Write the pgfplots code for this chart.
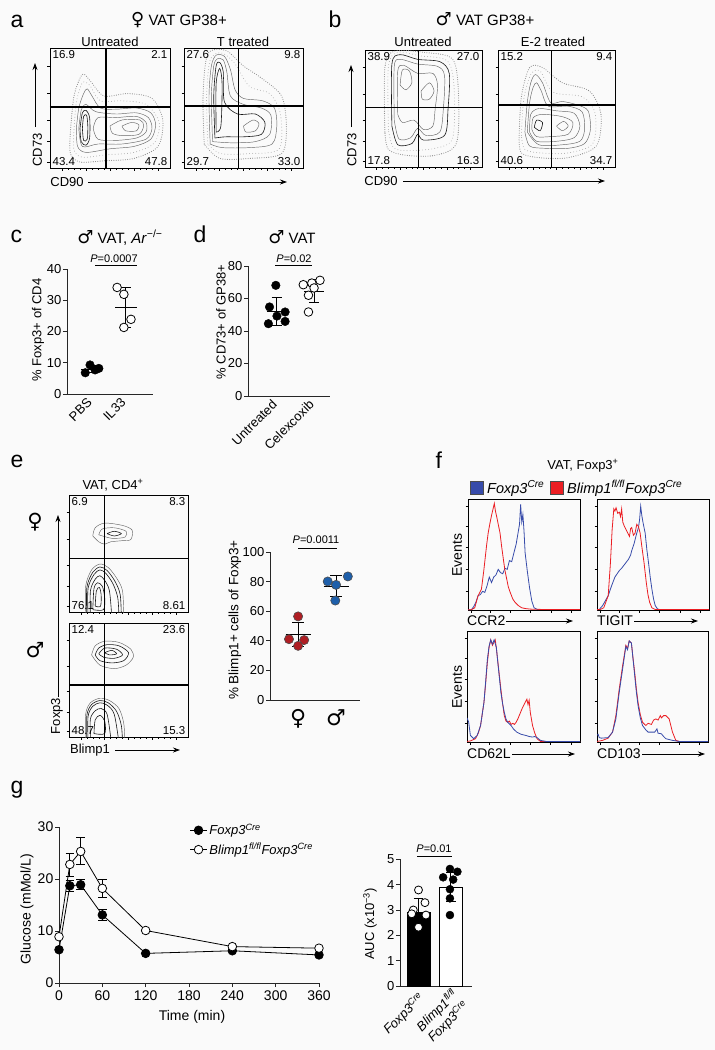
\documentclass[border=0pt]{standalone}
\usepackage{fontspec}
\setmainfont{Liberation Sans}
\newfontfamily\sym{DejaVu Sans}
\usepackage{pgfplots}
\pgfplotsset{compat=1.18}
\usetikzlibrary{arrows.meta}
\definecolor{bgc}{RGB}{250,250,250}
\definecolor{dred}{RGB}{175,30,35}
\definecolor{dblue}{RGB}{30,95,170}
\definecolor{hred}{RGB}{235,30,35}
\definecolor{hblue}{RGB}{55,75,170}
\newcommand{\fntS}{\fontsize{13}{15.5}\selectfont}
\newcommand{\fntG}{\fontsize{14}{16.5}\selectfont}
\newcommand{\fntT}{\fontsize{15}{18}\selectfont}
\newcommand{\fntN}{\fontsize{11.5}{13}\selectfont}
\newcommand{\fntP}{\fontsize{11}{13}\selectfont}
\newcommand{\fntL}{\fontsize{23}{26}\selectfont}
\newcommand{\fntLeg}{\fontsize{14.5}{17}\selectfont}
\newcommand{\fem}{{\sym\fontsize{18}{18}\selectfont ♀}}
\newcommand{\mal}{{\sym\fontsize{18}{18}\selectfont ♂}}
\pgfplotsset{
 base/.style={scale only axis, enlargelimits=false, /pgf/number format/assume math mode=true,
   tick label style={font=\fntS}, yticklabel style={inner xsep=1.5pt},
   axis lines=left, axis line style={-, line width=0.8pt, black!85},
   x axis line style={-}, y axis line style={-},
   tick style={line width=0.8pt, black!85}, xtick align=outside, ytick align=outside, major tick length=4pt,
   clip=false, unbounded coords=jump},
 flow/.style={scale only axis, enlargelimits=false, xmin=0,xmax=1,ymin=0,ymax=1, tick pos=left, tick align=outside,
   xtick={0.1,0.3,0.5,0.7,0.9}, ytick={0.05,0.22,0.4,0.62,0.85}, minor x tick num=3,
   xticklabels={}, yticklabels={}, major tick length=2.5pt, minor tick length=1.5pt,
   axis line style={line width=0.7pt}, tick style={line width=0.5pt, black}},
 hist/.style={scale only axis, enlargelimits=false, xmin=0,xmax=1,ymin=0,ymax=1.01, tick pos=left, tick align=outside,
   xtick={0.03,0.2,0.38,0.56,0.74,0.92}, minor x tick num=3, ytick={0.175,0.37,0.57,0.76,0.945},
   xticklabels={}, yticklabels={}, major tick length=2.5pt, minor tick length=1.5pt,
   axis line style={line width=0.8pt}, tick style={line width=0.5pt, black}},
 cont/.style={no markers, smooth, line width=0.45pt, black!60},
 contd/.style={no markers, smooth, line width=0.6pt, black!90},
 dots/.style={no markers, smooth, line cap=round, dash pattern=on 0pt off 2.3pt, line width=1.1pt, black!45},
 dotsb/.style={no markers, smooth, line cap=round, dash pattern=on 0pt off 3.1pt, line width=0.9pt, black!35},
 hr/.style={no markers, hred, line width=0.8pt},
 hb/.style={no markers, hblue, line width=0.8pt},
 msd/.style={black, line width=0.9pt, no markers},
}
\tikzset{quad/.style={line width=1.1pt, black}, fnum/.style={font=\fntN, inner sep=2.5pt},
 arr/.style={line width=0.8pt, -{Stealth[length=7pt, width=5pt]}}, tx/.style={font=\fntS}}
\begin{document}
\begin{tikzpicture}[font=\fntS, every node/.append style={font=\fntS}]
\useasboundingbox (0,0) rectangle (715pt,-1050pt);
\fill[bgc] (0,0) rectangle (715pt,-1050pt);

% ---------------- panel a ----------------
\node[anchor=base west, font=\fntL] at (7pt,-27pt) {a};
\node[anchor=base, font=\fntT] at (179pt,-25pt) {\fem\ VAT GP38+};
\node[anchor=base, tx] at (110pt,-46pt) {Untreated};
\node[anchor=base, tx] at (243pt,-46pt) {T treated};
\draw[arr] (35pt,-127pt) -- (35pt,-63pt);
\node[rotate=90, tx] at (37.5pt,-150pt) {CD73};
\node[tx] at (67pt,-182pt) {CD90};
\draw[arr] (88pt,-182pt) -- (287pt,-182pt);

\begin{axis}[flow, at={(50pt,-168pt)}, anchor=south west, width=120pt, height=120pt]
\addplot[dots] coordinates {(0.17,0.3) (0.2,0.6) (0.27,0.78) (0.34,0.72) (0.45,0.6) (0.65,0.62) (0.85,0.58) (0.94,0.4) (0.9,0.18) (0.7,0.08) (0.45,0.06) (0.25,0.05) (0.17,0.12) (0.17,0.3)};
\addplot[dotsb] coordinates {(0.2,0.32) (0.22,0.55) (0.27,0.71) (0.33,0.69) (0.42,0.56) (0.6,0.56) (0.8,0.53) (0.91,0.38) (0.87,0.21) (0.7,0.13) (0.47,0.11) (0.27,0.09) (0.2,0.15) (0.2,0.32)};
\addplot[cont] coordinates {(0.22,0.33) (0.24,0.5) (0.28,0.62) (0.31,0.66) (0.35,0.6) (0.42,0.5) (0.55,0.49) (0.72,0.5) (0.84,0.46) (0.88,0.36) (0.84,0.24) (0.7,0.18) (0.5,0.16) (0.3,0.13) (0.23,0.18) (0.22,0.33)};
\addplot[cont] coordinates {(0.24,0.33) (0.26,0.48) (0.3,0.53) (0.38,0.47) (0.55,0.45) (0.72,0.46) (0.82,0.42) (0.85,0.33) (0.8,0.24) (0.6,0.2) (0.4,0.2) (0.27,0.18) (0.24,0.33)};
\addplot[cont] coordinates {(0.36,0.33) (0.4,0.42) (0.55,0.42) (0.72,0.43) (0.8,0.38) (0.8,0.3) (0.72,0.25) (0.55,0.23) (0.4,0.24) (0.36,0.33)};
\addplot[contd] coordinates {(0.25,0.33) (0.27,0.46) (0.3,0.48) (0.33,0.42) (0.33,0.25) (0.3,0.19) (0.26,0.22) (0.25,0.33)};
\addplot[cont] coordinates {(0.5,0.35) (0.6,0.4) (0.75,0.4) (0.78,0.35) (0.74,0.28) (0.6,0.27) (0.52,0.29) (0.5,0.35)};
\addplot[contd] coordinates {(0.27,0.33) (0.28,0.43) (0.305,0.44) (0.315,0.35) (0.31,0.24) (0.28,0.23) (0.27,0.33)};
\addplot[cont] coordinates {(0.6,0.35) (0.68,0.38) (0.74,0.36) (0.72,0.31) (0.63,0.31) (0.6,0.35)};
\draw[quad] (axis cs:0.467,0) -- (axis cs:0.467,1);
\draw[quad] (axis cs:0,0.508) -- (axis cs:1,0.508);
\node[fnum, anchor=north west] at (rel axis cs:0,1) {16.9};
\node[fnum, anchor=north east] at (rel axis cs:1,1) {2.1};
\node[fnum, anchor=south west] at (rel axis cs:0,0) {43.4};
\node[fnum, anchor=south east] at (rel axis cs:1,0) {47.8};
\end{axis}

\begin{axis}[flow, at={(184pt,-168pt)}, anchor=south west, width=119pt, height=120pt]
\addplot[dots] coordinates {(0.17,0.2) (0.16,0.6) (0.2,0.95) (0.35,0.98) (0.5,0.85) (0.65,0.75) (0.82,0.6) (0.86,0.35) (0.82,0.12) (0.55,0.08) (0.3,0.08) (0.17,0.2)};
\addplot[dotsb] coordinates {(0.2,0.2) (0.19,0.6) (0.22,0.9) (0.31,0.96) (0.42,0.88) (0.55,0.68) (0.72,0.62) (0.81,0.45) (0.8,0.16) (0.55,0.12) (0.31,0.12) (0.2,0.2)};
\addplot[cont] coordinates {(0.22,0.2) (0.21,0.6) (0.23,0.85) (0.27,0.94) (0.34,0.93) (0.39,0.82) (0.43,0.65) (0.5,0.58) (0.66,0.56) (0.76,0.5) (0.78,0.35) (0.74,0.2) (0.55,0.17) (0.32,0.17) (0.22,0.2)};
\addplot[cont] coordinates {(0.24,0.22) (0.23,0.6) (0.25,0.85) (0.28,0.91) (0.33,0.9) (0.36,0.8) (0.39,0.6) (0.5,0.53) (0.65,0.5) (0.73,0.44) (0.72,0.28) (0.6,0.22) (0.4,0.21) (0.24,0.22)};
\addplot[contd] coordinates {(0.26,0.25) (0.25,0.6) (0.27,0.85) (0.3,0.88) (0.33,0.8) (0.34,0.55) (0.45,0.45) (0.6,0.45) (0.68,0.38) (0.65,0.28) (0.5,0.26) (0.35,0.26) (0.26,0.25)};
\addplot[contd] coordinates {(0.27,0.3) (0.27,0.7) (0.3,0.83) (0.32,0.7) (0.31,0.35) (0.27,0.3)};
\addplot[cont] coordinates {(0.5,0.35) (0.58,0.4) (0.63,0.37) (0.6,0.31) (0.52,0.3) (0.5,0.35)};
\draw[quad] (axis cs:0.46,0) -- (axis cs:0.46,1);
\draw[quad] (axis cs:0,0.517) -- (axis cs:1,0.517);
\node[fnum, anchor=north west] at (rel axis cs:0,1) {27.6};
\node[fnum, anchor=north east] at (rel axis cs:1,1) {9.8};
\node[fnum, anchor=south west] at (rel axis cs:0,0) {29.7};
\node[fnum, anchor=south east] at (rel axis cs:1,0) {33.0};
\end{axis}

% ---------------- panel b ----------------
\node[anchor=base west, font=\fntL] at (325pt,-27pt) {b};
\node[anchor=base, font=\fntT] at (485pt,-25pt) {\mal\ VAT GP38+};
\node[anchor=base, tx] at (423pt,-46pt) {Untreated};
\node[anchor=base, tx] at (553pt,-46pt) {E-2 treated};
\draw[arr] (351pt,-127pt) -- (351pt,-65pt);
\node[rotate=90, tx] at (352pt,-150pt) {CD73};
\node[tx] at (381pt,-181pt) {CD90};
\draw[arr] (403pt,-181pt) -- (605pt,-181pt);

\begin{axis}[flow, at={(365pt,-167pt)}, anchor=south west, width=117pt, height=117pt]
\addplot[dots] coordinates {(0.17,0.3) (0.17,0.85) (0.25,0.99) (0.5,0.98) (0.75,0.92) (0.8,0.6) (0.78,0.2) (0.6,0.1) (0.35,0.1) (0.2,0.15) (0.17,0.3)};
\addplot[dotsb] coordinates {(0.2,0.32) (0.2,0.86) (0.28,0.98) (0.47,0.95) (0.7,0.91) (0.76,0.7) (0.75,0.25) (0.6,0.16) (0.35,0.14) (0.24,0.17) (0.2,0.32)};
\addplot[contd] coordinates {(0.23,0.35) (0.23,0.88) (0.3,0.96) (0.45,0.92) (0.64,0.9) (0.72,0.8) (0.71,0.5) (0.68,0.27) (0.5,0.23) (0.45,0.28) (0.4,0.2) (0.28,0.19) (0.23,0.35)};
\addplot[cont] coordinates {(0.25,0.4) (0.25,0.86) (0.3,0.92) (0.45,0.88) (0.62,0.86) (0.68,0.78) (0.67,0.5) (0.64,0.3) (0.52,0.27) (0.45,0.33) (0.39,0.25) (0.29,0.24) (0.25,0.4)};
\addplot[cont] coordinates {(0.28,0.45) (0.28,0.82) (0.33,0.87) (0.45,0.8) (0.58,0.8) (0.62,0.7) (0.6,0.5) (0.58,0.35) (0.5,0.32) (0.42,0.4) (0.32,0.38) (0.28,0.45)};
\addplot[cont] coordinates {(0.3,0.7) (0.32,0.83) (0.38,0.82) (0.4,0.72) (0.35,0.66) (0.3,0.7)};
\addplot[cont] coordinates {(0.48,0.65) (0.55,0.72) (0.59,0.65) (0.55,0.58) (0.49,0.58) (0.48,0.65)};
\draw[quad] (axis cs:0.46,0) -- (axis cs:0.46,1);
\draw[quad] (axis cs:0,0.51) -- (axis cs:1,0.51);
\node[fnum, anchor=north west] at (rel axis cs:0,1) {38.9};
\node[fnum, anchor=north east] at (rel axis cs:1,1) {27.0};
\node[fnum, anchor=south west] at (rel axis cs:0,0) {17.8};
\node[fnum, anchor=south east] at (rel axis cs:1,0) {16.3};
\end{axis}

\begin{axis}[flow, at={(498pt,-167pt)}, anchor=south west, width=117pt, height=117pt]
\addplot[dots] coordinates {(0.18,0.25) (0.2,0.6) (0.27,0.85) (0.38,0.85) (0.55,0.72) (0.78,0.65) (0.88,0.45) (0.84,0.18) (0.6,0.08) (0.35,0.08) (0.2,0.12) (0.18,0.25)};
\addplot[dotsb] coordinates {(0.2,0.27) (0.22,0.58) (0.28,0.79) (0.36,0.82) (0.47,0.64) (0.72,0.6) (0.83,0.46) (0.81,0.2) (0.6,0.12) (0.37,0.12) (0.23,0.15) (0.2,0.27)};
\addplot[cont] coordinates {(0.23,0.3) (0.25,0.55) (0.28,0.72) (0.32,0.79) (0.38,0.72) (0.45,0.55) (0.55,0.56) (0.68,0.53) (0.77,0.48) (0.79,0.32) (0.74,0.2) (0.6,0.16) (0.4,0.16) (0.27,0.18) (0.23,0.3)};
\addplot[cont] coordinates {(0.25,0.3) (0.27,0.55) (0.3,0.68) (0.33,0.72) (0.37,0.65) (0.43,0.52) (0.6,0.52) (0.72,0.47) (0.74,0.32) (0.7,0.22) (0.55,0.19) (0.35,0.19) (0.25,0.3)};
\addplot[cont] coordinates {(0.27,0.3) (0.28,0.45) (0.35,0.5) (0.5,0.48) (0.65,0.46) (0.7,0.35) (0.65,0.25) (0.5,0.22) (0.33,0.22) (0.27,0.3)};
\addplot[cont] coordinates {(0.29,0.32) (0.3,0.42) (0.38,0.45) (0.55,0.43) (0.64,0.38) (0.6,0.28) (0.45,0.26) (0.33,0.26) (0.29,0.32)};
\addplot[contd] coordinates {(0.31,0.34) (0.33,0.4) (0.38,0.38) (0.36,0.31) (0.31,0.34)};
\addplot[cont] coordinates {(0.5,0.35) (0.56,0.39) (0.6,0.35) (0.55,0.31) (0.5,0.35)};
\draw[quad] (axis cs:0.46,0) -- (axis cs:0.46,1);
\draw[quad] (axis cs:0,0.53) -- (axis cs:1,0.53);
\node[fnum, anchor=north west] at (rel axis cs:0,1) {15.2};
\node[fnum, anchor=north east] at (rel axis cs:1,1) {9.4};
\node[fnum, anchor=south west] at (rel axis cs:0,0) {40.6};
\node[fnum, anchor=south east] at (rel axis cs:1,0) {34.7};
\end{axis}

% ---------------- panel c ----------------
\node[anchor=base west, font=\fntL] at (7pt,-242pt) {c};
\node[anchor=base, font=\fntT] at (120pt,-243pt) {\mal\ VAT, \textit{Ar}\textsuperscript{−/−}};
\node[rotate=90, tx] at (38pt,-330pt) {\% Foxp3+ of CD4};
\node[anchor=base, font=\fntP] at (114pt,-262pt) {\textit{P}=0.0007};
\draw[line width=0.7pt] (95pt,-265pt) -- (137pt,-265pt);
\begin{axis}[base, at={(67pt,-394pt)}, anchor=south west, width=86pt, height=125pt,
  xmin=0.26, xmax=2.8, ymin=0, ymax=40, ytick={0,10,20,30,40}, xtick={1,2}, xticklabels={PBS,IL33},
  xticklabel style={rotate=45, anchor=east}, xtick style={draw=none}]
\addplot[only marks, mark=*, mark size=4.3pt, mark options={fill=black, draw=black}] coordinates {(0.8,6.8) (0.94,9.3) (1.09,7.7) (1.2,8.2)};
\addplot[only marks, mark=*, mark size=4.3pt, mark options={fill=white, draw=black, line width=0.8pt}] coordinates {(1.74,34.1) (1.94,31.9) (2.15,23.9) (1.94,21.3)};
\addplot[msd] coordinates {(0.68,8.0) (1.32,8.0) (nan,nan) (1,7.0) (1,9.1) (nan,nan) (0.84,7.0) (1.16,7.0) (nan,nan) (0.84,9.1) (1.16,9.1)};
\addplot[msd] coordinates {(1.68,27.7) (2.32,27.7) (nan,nan) (2,21.3) (2,34.1) (nan,nan) (1.84,21.3) (2.16,21.3) (nan,nan) (1.84,34.1) (2.16,34.1)};
\end{axis}

% ---------------- panel d ----------------
\node[anchor=base west, font=\fntL] at (190pt,-242pt) {d};
\node[anchor=base, font=\fntT] at (292pt,-243pt) {\mal\ VAT};
\node[rotate=90, tx] at (221pt,-322pt) {\% CD73+ of GP38+};
\node[anchor=base, font=\fntP] at (294pt,-262pt) {\textit{P}=0.02};
\draw[line width=0.7pt] (275pt,-265pt) -- (312pt,-265pt);
\begin{axis}[base, at={(248pt,-396pt)}, anchor=south west, width=82pt, height=130pt,
  xmin=0.22, xmax=2.43, ymin=0, ymax=80, ytick={0,20,40,60,80}, xtick={1,2}, xticklabels={Untreated,Celexcoxib},
  xticklabel style={rotate=45, anchor=east}, xtick style={draw=none}]
\addplot[only marks, mark=*, mark size=4.3pt, mark options={fill=black, draw=black}] coordinates {(0.97,68.1) (0.8,54.8) (1.22,51.7) (1.0,49.2) (1.22,45.9) (0.77,44.5)};
\addplot[only marks, mark=*, mark size=4.3pt, mark options={fill=white, draw=black, line width=0.8pt}] coordinates {(1.71,68.5) (1.94,69.5) (2.16,71.2) (2.0,66.5) (1.85,62.0) (1.85,51.7)};
\addplot[msd] coordinates {(0.73,52.3) (1.27,52.3) (nan,nan) (1,43.5) (1,60.9) (nan,nan) (0.86,43.5) (1.14,43.5) (nan,nan) (0.86,60.9) (1.14,60.9)};
\addplot[msd] coordinates {(1.73,64.6) (2.27,64.6) (nan,nan) (2,57.8) (2,71.8) (nan,nan) (1.86,57.8) (2.14,57.8) (nan,nan) (1.86,71.8) (2.14,71.8)};
\end{axis}

% ---------------- panel e ----------------
\node[anchor=base west, font=\fntL] at (7pt,-467pt) {e};
\node[anchor=base, tx] at (113pt,-489pt) {VAT, CD4\textsuperscript{+}};
\node at (35pt,-522pt) {{\sym\fontsize{21}{21}\selectfont ♀}};
\node at (35pt,-650pt) {{\sym\fontsize{21}{21}\selectfont ♂}};
\draw[arr] (58pt,-697pt) -- (58pt,-515pt);
\node[rotate=90, tx] at (57pt,-716pt) {Foxp3};
\node[tx] at (90pt,-750pt) {Blimp1};
\draw[arr] (115pt,-750pt) -- (180pt,-750pt);

\begin{axis}[flow, at={(69pt,-612pt)}, anchor=south west, width=119pt, height=117pt]
\addplot[cont] coordinates {(0.2,0.65) (0.22,0.72) (0.3,0.76) (0.45,0.74) (0.53,0.7) (0.52,0.62) (0.45,0.61) (0.35,0.6) (0.3,0.58) (0.25,0.6) (0.2,0.65)};
\addplot[cont] coordinates {(0.25,0.66) (0.28,0.71) (0.38,0.72) (0.48,0.69) (0.47,0.64) (0.36,0.63) (0.25,0.66)};
\addplot[contd] coordinates {(0.32,0.67) (0.38,0.69) (0.44,0.67) (0.38,0.65) (0.32,0.67)};
\addplot[cont] coordinates {(0.14,-0.05) (0.14,0.22) (0.19,0.36) (0.26,0.41) (0.33,0.38) (0.4,0.29) (0.45,0.18) (0.46,-0.05)};
\addplot[contd] coordinates {(0.15,-0.05) (0.15,0.21) (0.2,0.34) (0.26,0.385) (0.32,0.355) (0.385,0.265) (0.43,0.15) (0.44,-0.05)};
\addplot[contd] coordinates {(0.16,-0.05) (0.16,0.2) (0.21,0.32) (0.26,0.36) (0.31,0.33) (0.37,0.24) (0.41,0.12) (0.42,-0.05)};
\addplot[contd] coordinates {(0.18,-0.05) (0.18,0.18) (0.22,0.28) (0.26,0.31) (0.3,0.27) (0.34,0.18) (0.36,-0.05)};
\addplot[contd] coordinates {(0.2,0.02) (0.21,0.2) (0.24,0.25) (0.28,0.22) (0.3,0.12) (0.29,0.02) (0.2,0.02)};
\addplot[contd] coordinates {(0.22,0.05) (0.23,0.18) (0.255,0.21) (0.27,0.15) (0.265,0.05) (0.22,0.05)};
\draw[quad] (axis cs:0.3,0) -- (axis cs:0.3,1);
\draw[quad] (axis cs:0,0.46) -- (axis cs:1,0.46);
\node[fnum, anchor=north west] at (rel axis cs:0,1) {6.9};
\node[fnum, anchor=north east] at (rel axis cs:1,1) {8.3};
\node[fnum, anchor=south west] at (rel axis cs:0,0) {76.1};
\node[fnum, anchor=south east] at (rel axis cs:1,0) {8.61};
\end{axis}

\begin{axis}[flow, at={(69pt,-737pt)}, anchor=south west, width=119pt, height=114pt]
\addplot[cont] coordinates {(0.19,0.72) (0.22,0.8) (0.3,0.84) (0.42,0.83) (0.52,0.77) (0.54,0.7) (0.48,0.63) (0.38,0.6) (0.26,0.63) (0.19,0.72)};
\addplot[contd] coordinates {(0.22,0.72) (0.25,0.78) (0.32,0.81) (0.42,0.8) (0.5,0.74) (0.46,0.67) (0.36,0.65) (0.26,0.67) (0.22,0.72)};
\addplot[contd] coordinates {(0.25,0.73) (0.3,0.78) (0.4,0.77) (0.45,0.72) (0.38,0.69) (0.29,0.7) (0.25,0.73)};
\addplot[contd] coordinates {(0.3,0.74) (0.36,0.76) (0.4,0.73) (0.34,0.72) (0.3,0.74)};
\addplot[cont] coordinates {(0.14,-0.05) (0.14,0.2) (0.18,0.3) (0.26,0.34) (0.34,0.32) (0.42,0.25) (0.46,0.12) (0.47,-0.05)};
\addplot[contd] coordinates {(0.15,-0.05) (0.15,0.19) (0.19,0.285) (0.26,0.32) (0.33,0.3) (0.4,0.225) (0.44,0.1) (0.45,-0.05)};
\addplot[contd] coordinates {(0.16,-0.05) (0.16,0.18) (0.2,0.27) (0.26,0.3) (0.32,0.28) (0.38,0.2) (0.42,-0.05)};
\addplot[contd] coordinates {(0.18,0.0) (0.18,0.16) (0.22,0.23) (0.27,0.25) (0.32,0.2) (0.35,0.0)};
\addplot[contd] coordinates {(0.21,0.03) (0.22,0.15) (0.26,0.19) (0.3,0.14) (0.3,0.03) (0.21,0.03)};
\draw[quad] (axis cs:0.3,0) -- (axis cs:0.3,1);
\draw[quad] (axis cs:0,0.456) -- (axis cs:1,0.456);
\node[fnum, anchor=north west] at (rel axis cs:0,1) {12.4};
\node[fnum, anchor=north east] at (rel axis cs:1,1) {23.6};
\node[fnum, anchor=south west] at (rel axis cs:0,0) {48.7};
\node[fnum, anchor=south east] at (rel axis cs:1,0) {15.3};
\end{axis}

\node[rotate=90, font=\fontsize{13.5}{16}\selectfont] at (235pt,-620pt) {\% Blimp1+ cells of Foxp3+};
\node[anchor=base, font=\fntP] at (316pt,-543pt) {\textit{P}=0.0011};
\draw[line width=0.7pt] (298pt,-548pt) -- (337pt,-548pt);
\begin{axis}[base, at={(270pt,-700pt)}, anchor=south west, width=90pt, height=148pt,
  xmin=0.26, xmax=2.63, ymin=0, ymax=100, ytick={0,20,40,60,80,100}, xtick={1,2},
  xticklabels={{\sym\fontsize{22}{22}\selectfont ♀},{\sym\fontsize{22}{22}\selectfont ♂}},
  xticklabel style={anchor=north, yshift=-2pt}, xtick style={draw=none}]
\addplot[only marks, mark=*, mark size=4.6pt, mark options={fill=dred, draw=black!70, line width=0.6pt}] coordinates {(1.0,56.5) (0.76,41.1) (1.16,40.5) (1.0,36.6)};
\addplot[only marks, mark=*, mark size=4.6pt, mark options={fill=dblue, draw=black!70, line width=0.6pt}] coordinates {(2.31,83.5) (1.78,80.1) (2.0,77.8) (1.98,67.2)};
\addplot[msd] coordinates {(0.67,44.1) (1.33,44.1) (nan,nan) (1,35.9) (1,52.5) (nan,nan) (0.84,35.9) (1.16,35.9) (nan,nan) (0.84,52.5) (1.16,52.5)};
\addplot[msd] coordinates {(1.67,76.9) (2.33,76.9) (nan,nan) (2,69.9) (2,84.2) (nan,nan) (1.84,69.9) (2.16,69.9) (nan,nan) (1.84,84.2) (2.16,84.2)};
\end{axis}

% ---------------- panel f ----------------
\node[anchor=base west, font=\fntL] at (432pt,-468pt) {f};
\node[anchor=base, tx] at (583pt,-469pt) {VAT, Foxp3\textsuperscript{+}};
\filldraw[fill=hblue, draw=black!70, line width=0.5pt] (470pt,-481pt) rectangle (483pt,-494pt);
\node[anchor=base west, font=\fntLeg, inner xsep=2pt] at (485pt,-493pt) {\textit{Foxp3}\textsuperscript{\textit{Cre}}};
\filldraw[fill=hred, draw=black!70, line width=0.5pt] (550pt,-481pt) rectangle (563pt,-494pt);
\node[anchor=base west, font=\fntLeg, inner xsep=2pt] at (565pt,-493pt) {\textit{Blimp1}\textsuperscript{\textit{fl/fl}}\textit{Foxp3}\textsuperscript{\textit{Cre}}};
\node[rotate=90, font=\fntG] at (457pt,-555pt) {Events};
\node[rotate=90, font=\fntG] at (457pt,-687pt) {Events};
\node[anchor=west, font=\fntG, inner xsep=1pt] at (466pt,-621pt) {CCR2};
\draw[arr] (506pt,-621pt) -- (573pt,-621pt);
\node[anchor=west, font=\fntG, inner xsep=1pt] at (596pt,-621pt) {TIGIT};
\draw[arr] (634pt,-621pt) -- (698pt,-621pt);
\node[anchor=west, font=\fntG, inner xsep=1pt] at (466pt,-754pt) {CD62L};
\draw[arr] (512pt,-754pt) -- (575pt,-754pt);
\node[anchor=west, font=\fntG, inner xsep=1pt] at (596pt,-754pt) {CD103};
\draw[arr] (642pt,-754pt) -- (705pt,-754pt);

\begin{axis}[hist, at={(468pt,-610pt)}, anchor=south west, width=112pt, height=111pt]
\addplot[hb] coordinates {(0,0.003) (0.03,0.003) (0.05,0.03) (0.07,0.07) (0.09,0.13) (0.11,0.14) (0.13,0.17) (0.15,0.16) (0.17,0.22) (0.19,0.3) (0.21,0.25) (0.23,0.3) (0.25,0.32) (0.27,0.37) (0.29,0.34) (0.31,0.33) (0.33,0.38) (0.35,0.37) (0.37,0.45) (0.39,0.44) (0.41,0.52) (0.43,0.6) (0.45,0.72) (0.46,0.78) (0.47,0.96) (0.48,0.8) (0.49,0.87) (0.5,0.72) (0.51,0.52) (0.53,0.35) (0.55,0.2) (0.57,0.08) (0.59,0.02) (0.62,0.005) (0.7,0.004) (1,0.004)};
\addplot[hr] coordinates {(0,0.003) (0.03,0.003) (0.06,0.02) (0.09,0.13) (0.12,0.19) (0.14,0.35) (0.165,0.58) (0.18,0.7) (0.196,0.79) (0.21,0.86) (0.226,0.93) (0.235,0.97) (0.245,0.9) (0.256,0.85) (0.27,0.78) (0.286,0.7) (0.3,0.58) (0.316,0.46) (0.33,0.36) (0.346,0.28) (0.36,0.21) (0.377,0.16) (0.4,0.1) (0.42,0.07) (0.45,0.04) (0.48,0.02) (0.52,0.012) (0.56,0.008) (0.7,0.004) (1,0.004)};
\end{axis}
\begin{axis}[hist, at={(597pt,-610pt)}, anchor=south west, width=112pt, height=111pt]
\addplot[hb] coordinates {(0,0.003) (0.02,0.005) (0.05,0.04) (0.1,0.13) (0.13,0.22) (0.16,0.3) (0.18,0.33) (0.2,0.36) (0.22,0.38) (0.25,0.42) (0.28,0.46) (0.3,0.5) (0.31,0.54) (0.33,0.6) (0.34,0.64) (0.355,0.7) (0.37,0.75) (0.38,0.82) (0.39,0.945) (0.4,0.86) (0.41,0.8) (0.42,0.75) (0.43,0.7) (0.445,0.55) (0.46,0.43) (0.475,0.3) (0.49,0.19) (0.505,0.1) (0.52,0.04) (0.54,0.01) (0.56,0.004) (1,0.004)};
\addplot[hr] coordinates {(0,0.003) (0.03,0.005) (0.06,0.02) (0.1,0.13) (0.12,0.43) (0.135,0.73) (0.15,0.92) (0.16,0.9) (0.17,0.93) (0.185,0.88) (0.2,0.89) (0.21,0.85) (0.22,0.92) (0.23,0.8) (0.245,0.76) (0.26,0.73) (0.275,0.7) (0.29,0.67) (0.3,0.74) (0.31,0.75) (0.325,0.68) (0.34,0.7) (0.355,0.78) (0.37,0.76) (0.385,0.7) (0.4,0.58) (0.42,0.43) (0.44,0.25) (0.455,0.14) (0.47,0.07) (0.49,0.02) (0.52,0.005) (1,0.004)};
\end{axis}
\begin{axis}[hist, at={(467pt,-742pt)}, anchor=south west, width=113pt, height=111pt]
\addplot[hr] coordinates {(0,0.005) (0.03,0.01) (0.075,0.03) (0.1,0.08) (0.12,0.15) (0.15,0.36) (0.165,0.53) (0.18,0.72) (0.195,0.86) (0.21,0.93) (0.225,0.88) (0.25,0.93) (0.26,0.85) (0.27,0.76) (0.285,0.62) (0.3,0.48) (0.315,0.35) (0.33,0.24) (0.345,0.19) (0.36,0.18) (0.375,0.19) (0.39,0.16) (0.405,0.17) (0.42,0.16) (0.435,0.18) (0.45,0.21) (0.47,0.26) (0.49,0.31) (0.5,0.33) (0.515,0.36) (0.53,0.39) (0.54,0.34) (0.55,0.38) (0.56,0.27) (0.58,0.15) (0.6,0.08) (0.62,0.03) (0.65,0.005) (1,0.004)};
\addplot[hb] coordinates {(0,0.22) (0.015,0.18) (0.03,0.06) (0.06,0.03) (0.09,0.06) (0.12,0.15) (0.15,0.36) (0.165,0.55) (0.18,0.75) (0.195,0.87) (0.21,0.93) (0.225,0.89) (0.24,0.93) (0.26,0.86) (0.27,0.75) (0.285,0.6) (0.3,0.45) (0.315,0.35) (0.33,0.27) (0.345,0.21) (0.36,0.18) (0.39,0.15) (0.41,0.12) (0.44,0.09) (0.48,0.07) (0.52,0.06) (0.55,0.05) (0.58,0.045) (0.6,0.05) (0.62,0.04) (0.65,0.015) (0.7,0.005) (1,0.004)};
\end{axis}
\begin{axis}[hist, at={(597pt,-742pt)}, anchor=south west, width=111pt, height=111pt]
\addplot[hr] coordinates {(0,0.005) (0.05,0.015) (0.1,0.035) (0.14,0.09) (0.17,0.24) (0.2,0.48) (0.22,0.62) (0.23,0.69) (0.26,0.88) (0.275,0.85) (0.29,0.92) (0.31,0.9) (0.325,0.76) (0.34,0.63) (0.355,0.48) (0.37,0.36) (0.39,0.25) (0.41,0.18) (0.44,0.15) (0.46,0.17) (0.49,0.16) (0.51,0.2) (0.53,0.21) (0.55,0.2) (0.57,0.24) (0.58,0.22) (0.6,0.24) (0.62,0.24) (0.64,0.22) (0.65,0.21) (0.68,0.09) (0.71,0.015) (0.74,0.005) (1,0.004)};
\addplot[hb] coordinates {(0,0.06) (0.01,0.07) (0.02,0.04) (0.04,0.035) (0.1,0.04) (0.14,0.09) (0.17,0.21) (0.2,0.45) (0.23,0.66) (0.26,0.87) (0.275,0.84) (0.29,0.92) (0.31,0.9) (0.325,0.75) (0.34,0.6) (0.355,0.45) (0.37,0.33) (0.39,0.22) (0.41,0.15) (0.44,0.11) (0.46,0.09) (0.5,0.09) (0.52,0.09) (0.54,0.12) (0.55,0.08) (0.58,0.075) (0.6,0.05) (0.62,0.03) (0.68,0.015) (0.74,0.005) (1,0.004)};
\end{axis}

% ---------------- panel g ----------------
\node[anchor=base west, font=\fntL] at (7pt,-793pt) {g};
\node[rotate=90, font=\fntG] at (27pt,-909pt) {Glucose (mMol/L)};
\node[anchor=base, font=\fntG] at (192pt,-1020pt) {Time (min)};
\begin{axis}[base, at={(59pt,-983pt)}, anchor=south west, width=260pt, height=156pt,
  tick label style={font=\fntG},
  xmin=0, xmax=360, ymin=0, ymax=30, xtick={0,60,120,180,240,300,360}, ytick={0,10,20,30},
  legend style={at={(0.49,1.045)}, anchor=north west, draw=none, fill=none, font=\fntLeg, row sep=3pt},
  legend cell align=left]
\addplot[msd, forget plot] coordinates {(15,17.6) (15,19.8) (nan,nan) (9,17.6) (21,17.6) (nan,nan) (9,19.8) (21,19.8) (nan,nan) (30,18.0) (30,19.9) (nan,nan) (24,18.0) (36,18.0) (nan,nan) (24,19.9) (36,19.9) (nan,nan) (60,12.1) (60,14.2) (nan,nan) (54,12.1) (66,12.1) (nan,nan) (54,14.2) (66,14.2)};
\addplot[msd, forget plot] coordinates {(15,20.4) (15,24.9) (nan,nan) (9,20.4) (21,20.4) (nan,nan) (9,24.9) (21,24.9) (nan,nan) (30,22.8) (30,27.9) (nan,nan) (24,22.8) (36,22.8) (nan,nan) (24,27.9) (36,27.9) (nan,nan) (60,16.5) (60,19.9) (nan,nan) (54,16.5) (66,16.5) (nan,nan) (54,19.9) (66,19.9)};
\addplot[black, line width=0.8pt, mark=*, mark size=4.3pt, mark options={fill=black, draw=black}] coordinates {(0,6.4) (15,18.7) (30,18.9) (60,13.1) (120,5.7) (240,6.2) (360,5.4)};
\addlegendentry{\textit{Foxp3}\textsuperscript{\textit{Cre}}}
\addplot[black, line width=0.8pt, mark=*, mark size=4.3pt, mark options={fill=white, draw=black}] coordinates {(0,8.9) (15,22.8) (30,25.3) (60,18.2) (120,10.1) (240,7.0) (360,6.7)};
\addlegendentry{\textit{Blimp1}\textsuperscript{\textit{fl/fl}}\textit{Foxp3}\textsuperscript{\textit{Cre}}}
\end{axis}

\node[rotate=90, tx] at (370pt,-924pt) {AUC (x10\textsuperscript{−3})};
\node[anchor=base, font=\fntP] at (434pt,-852pt) {\textit{P}=0.01};
\draw[line width=0.7pt] (417pt,-856pt) -- (452pt,-856pt);
\node[rotate=45, anchor=east, inner sep=1pt, tx] at (423pt,-995pt) {\textit{Foxp3}\textsuperscript{\textit{Cre}}};
\node[rotate=45, anchor=east, align=center, inner sep=1pt, tx] at (462pt,-997pt) {\textit{Blimp1}\textsuperscript{\textit{fl/fl}}\\\textit{Foxp3}\textsuperscript{\textit{Cre}}};
\begin{axis}[base, at={(400pt,-986pt)}, anchor=south west, width=72pt, height=126.7pt,
  xmin=0.43, xmax=2.65, ymin=0, ymax=5, ytick={0,1,2,3,4,5}, xtick={1,2},
  xticklabels={}, xtick style={draw=none}]
\addplot[ybar, bar width=23pt, fill=black, draw=black, line width=0.8pt] coordinates {(1,2.92)};
\addplot[ybar, bar width=23pt, fill=white, draw=black, line width=0.8pt] coordinates {(2,3.9)};
\addplot[msd] coordinates {(1,2.38) (1,3.46) (nan,nan) (0.85,3.46) (1.15,3.46) (nan,nan) (2,3.33) (2,4.47) (nan,nan) (1.85,3.33) (2.15,3.33) (nan,nan) (1.85,4.47) (2.15,4.47)};
\addplot[only marks, mark=*, mark size=4pt, mark options={fill=white, draw=black, line width=0.8pt}] coordinates {(1.0,3.79) (0.84,3.0) (1.2,3.29) (1.23,2.8) (0.79,2.85) (1.0,2.32)};
\addplot[only marks, mark=*, mark size=4pt, mark options={fill=black, draw=black}] coordinates {(1.97,4.62) (2.2,4.51) (1.76,4.29) (2.07,4.2) (1.97,3.82) (1.97,3.46) (1.97,2.8)};
\end{axis}
\end{tikzpicture}
\end{document}
